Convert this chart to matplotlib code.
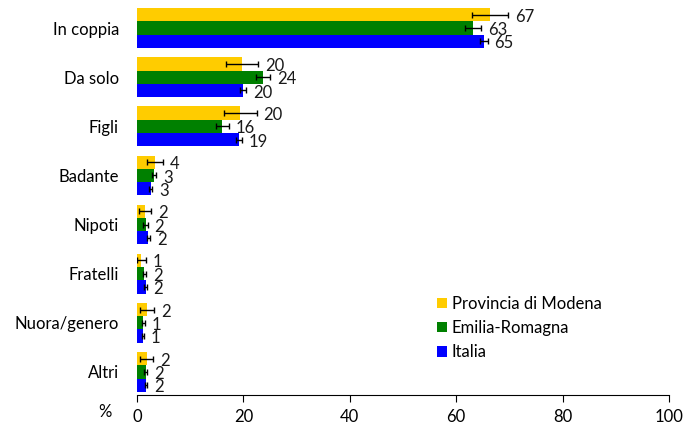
import matplotlib
matplotlib.use("Agg")
import matplotlib.pyplot as plt
import numpy as np

categories = ["In coppia", "Da solo", "Figli", "Badante", "Nipoti", "Fratelli", "Nuora/genero", "Altri"]
series_names = ["Provincia di Modena", "Emilia-Romagna", "Italia"]
modena = [66.4, 19.7, 19.4, 3.4, 1.5, 0.8, 1.9, 1.8]
modena_err = [3.4, 3.0, 3.1, 1.5, 1.2, 0.8, 1.3, 1.2]
modena_lbl = ["67", "20", "20", "4", "2", "1", "2", "2"]
emilia = [63.2, 23.7, 16.0, 3.2, 1.6, 1.4, 1.2, 1.6]
emilia_err = [1.5, 1.3, 1.2, 0.4, 0.4, 0.3, 0.3, 0.3]
emilia_lbl = ["63", "24", "16", "3", "2", "2", "1", "2"]
italia = [65.2, 19.9, 19.2, 2.6, 2.1, 1.6, 1.1, 1.7]
italia_err = [0.7, 0.55, 0.5, 0.3, 0.3, 0.2, 0.2, 0.2]
italia_lbl = ["65", "20", "19", "3", "2", "2", "1", "2"]
colors = ["#FFCC00", "#008000", "#0000FF"]
xticks = [0, 20, 40, 60, 80, 100]

plt.rcParams['font.family'] = ['Lato', 'DejaVu Sans']
FS = 12

fig = plt.figure(figsize=(6.93, 4.25), dpi=100)
ax = fig.add_axes([137/693, 30/425, 532/693, 390/425])

n = len(categories)
y = np.arange(n)
h = 0.27
data = [(modena, modena_err, modena_lbl), (emilia, emilia_err, emilia_lbl), (italia, italia_err, italia_lbl)]
for i, (vals, errs, lbls) in enumerate(data):
    pos = y + (i - 1) * h
    ax.barh(pos, vals, height=h, color=colors[i], label=series_names[i], zorder=2)
    ax.errorbar(vals, pos, xerr=errs, fmt='none', ecolor='black', elinewidth=1.0,
                capsize=2.5, capthick=1.0, zorder=3)
    for p, v, e, l in zip(pos, vals, errs, lbls):
        ax.annotate(l, xy=(v + e, p), xytext=(5, -1.5), textcoords='offset points',
                    ha='left', va='center', fontsize=FS, color='#1a1a1a')

ax.set_ylim(n - 1 + 0.47, -0.47)
ax.set_xlim(0, 100)
ax.set_yticks(y)
ax.set_yticklabels(categories, fontsize=FS)
ax.tick_params(axis='y', length=0, pad=13)
ax.set_xticks(xticks)
ax.set_xticklabels([str(t) for t in xticks], fontsize=FS)
ax.tick_params(axis='x', direction='out', length=5, width=0.8, pad=5, color='black')
for s in ['top', 'right', 'left']:
    ax.spines[s].set_visible(False)
ax.spines['bottom'].set_linewidth(0.8)
fig.text(105/693, 1 - 412/425, "%", fontsize=FS, ha='center', va='center')

leg = ax.legend(loc='upper left', bbox_to_anchor=(293/532, (395 - 289)/390), frameon=False,
                fontsize=FS, handlelength=0.6, handleheight=0.6, handletextpad=0.3,
                labelspacing=0.5, borderaxespad=0)

fig.savefig("out.png", dpi=100)
